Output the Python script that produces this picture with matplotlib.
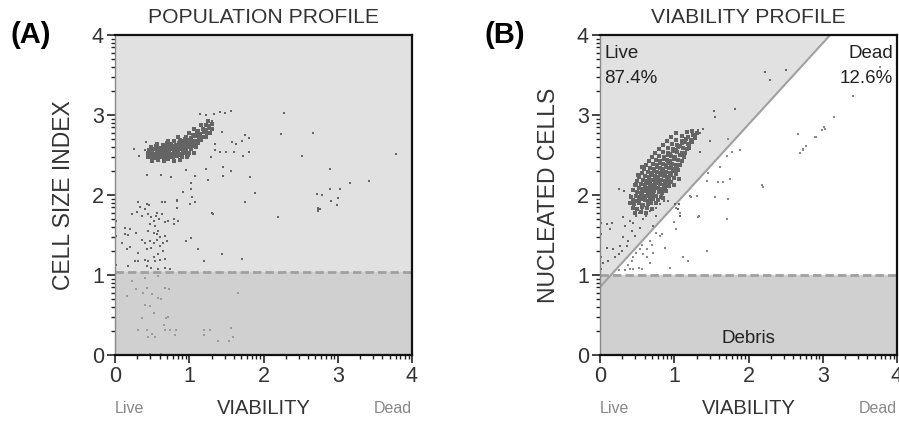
import numpy as np
import matplotlib
matplotlib.use('Agg')
import matplotlib.pyplot as plt
from matplotlib.transforms import blended_transform_factory

plt.rcParams['font.family'] = ['Liberation Sans', 'DejaVu Sans']

# ---- data: panel A (population profile) ----
a_core = [
    (0.50, 2.43), (0.58, 2.44), (0.66, 2.42), (0.71, 2.45), (0.80, 2.43), (0.88, 2.44),
    (0.45, 2.48), (0.49, 2.47), (0.55, 2.49), (0.60, 2.48), (0.64, 2.47), (0.69, 2.49),
    (0.74, 2.48), (0.78, 2.47), (0.84, 2.49), (0.90, 2.48), (0.97, 2.47),
    (0.44, 2.52), (0.48, 2.53), (0.52, 2.51), (0.57, 2.52), (0.61, 2.53), (0.65, 2.51),
    (0.68, 2.52), (0.72, 2.53), (0.76, 2.51), (0.81, 2.52), (0.85, 2.53), (0.89, 2.51),
    (0.94, 2.52), (1.00, 2.53), (1.06, 2.52),
    (0.46, 2.56), (0.50, 2.55), (0.54, 2.57), (0.58, 2.56), (0.62, 2.55), (0.66, 2.57),
    (0.70, 2.56), (0.73, 2.55), (0.77, 2.57), (0.80, 2.56), (0.84, 2.55), (0.88, 2.57),
    (0.92, 2.56), (0.96, 2.55), (1.02, 2.57),
    (0.49, 2.60), (0.55, 2.61), (0.60, 2.59), (0.64, 2.60), (0.68, 2.61), (0.72, 2.59),
    (0.76, 2.60), (0.79, 2.61), (0.83, 2.59), (0.87, 2.60), (0.91, 2.61), (0.95, 2.59),
    (0.99, 2.60), (1.04, 2.61), (1.09, 2.60),
    (0.57, 2.64), (0.65, 2.63), (0.70, 2.65), (0.75, 2.64), (0.82, 2.63), (0.86, 2.65),
    (0.90, 2.64), (0.94, 2.63), (0.98, 2.65), (1.03, 2.64), (1.07, 2.63), (1.12, 2.65),
    (0.71, 2.68), (0.80, 2.67), (0.88, 2.69), (0.93, 2.68), (0.97, 2.67), (1.01, 2.69),
    (1.06, 2.68), (1.10, 2.67), (1.16, 2.69),
    (0.85, 2.72), (0.96, 2.73), (1.02, 2.71), (1.08, 2.74), (1.13, 2.72), (1.18, 2.73),
    (1.22, 2.72),
    (1.00, 2.77), (1.10, 2.78), (1.15, 2.76), (1.20, 2.79), (1.24, 2.77), (1.28, 2.78),
    (1.07, 2.82), (1.19, 2.83), (1.23, 2.81), (1.26, 2.84), (1.31, 2.82),
    (1.16, 2.87), (1.22, 2.88), (1.27, 2.86), (1.31, 2.89), (1.25, 2.93),
    (0.53, 2.465), (0.67, 2.455), (0.75, 2.50), (0.87, 2.505), (0.63, 2.54), (0.79, 2.535),
    (0.91, 2.58), (0.71, 2.62), (0.85, 2.615), (1.01, 2.625), (0.94, 2.70), (1.05, 2.75),
    (1.12, 2.80), (0.59, 2.58), (0.98, 2.50), (1.14, 2.70),
]

a_scatter = [
    (0.25, 2.57), (0.32, 2.49), (0.40, 2.56), (0.42, 2.66), (0.43, 2.25), (0.62, 2.25),
    (0.75, 2.22), (0.96, 2.31), (1.08, 2.24), (1.23, 2.32), (1.46, 2.35), (1.46, 2.24),
    (1.56, 2.30), (1.82, 2.22), (1.25, 2.19), (1.02, 2.15), (1.03, 2.08), (1.04, 1.97),
    (1.08, 1.91), (0.83, 1.94), (0.84, 1.84), (0.91, 2.04), (1.31, 1.77), (1.75, 1.91),
    (1.89, 2.03), (1.41, 2.54), (1.49, 2.54), (1.60, 2.54), (1.73, 2.49), (1.80, 2.54),
    (1.58, 2.66), (1.63, 2.64), (1.71, 2.68), (1.75, 2.75), (1.80, 2.71), (1.35, 2.64),
    (1.35, 2.56), (1.29, 2.47), (1.44, 2.79), (1.41, 3.04), (1.48, 3.02), (1.56, 3.05),
    (1.14, 3.01), (1.23, 3.00), (1.34, 3.01), (1.30, 2.93),
    (2.28, 3.03), (2.24, 2.76), (2.67, 2.78), (2.52, 2.49), (3.79, 2.51), (2.89, 2.32),
    (3.16, 2.15), (3.42, 2.17), (2.89, 2.08), (3.03, 2.08), (2.72, 2.01), (2.79, 2.00),
    (2.91, 1.93), (3.01, 1.96), (2.99, 1.88), (2.73, 1.82), (2.76, 1.82), (2.74, 1.84),
    (2.74, 1.80), (2.19, 1.72),
    (0.31, 1.91), (0.34, 1.85), (0.43, 1.89), (0.46, 1.87), (0.63, 1.91), (0.68, 1.91),
    (0.83, 1.93), (1.01, 1.89), (1.08, 1.91), (1.75, 1.91), (0.23, 1.76), (0.29, 1.79),
    (0.36, 1.74), (0.40, 1.82), (0.45, 1.76), (0.49, 1.72), (0.52, 1.68), (0.55, 1.74),
    (0.57, 1.78), (0.59, 1.70), (0.63, 1.76), (0.67, 1.66), (0.72, 1.68), (0.47, 1.64),
    (0.54, 1.61), (0.79, 1.70), (0.85, 1.68), (0.80, 1.64), (1.32, 1.76), (0.13, 1.59),
    (0.20, 1.57), (0.28, 1.53), (0.45, 1.55), (0.52, 1.53), (0.58, 1.55), (0.56, 1.51),
    (0.61, 1.47), (0.67, 1.49), (0.13, 1.51), (0.18, 1.50), (0.02, 1.49), (0.01, 1.68),
    (0.36, 1.44), (0.40, 1.40), (0.47, 1.42), (0.52, 1.40), (0.56, 1.44), (0.65, 1.40),
    (0.70, 1.42), (0.95, 1.42), (1.03, 1.46), (1.12, 1.32), (0.09, 1.40), (0.20, 1.35),
    (0.16, 1.32), (0.31, 1.28), (0.43, 1.32), (0.49, 1.34), (0.61, 1.36), (0.65, 1.30),
    (0.58, 1.26), (0.52, 1.22), (0.45, 1.17), (0.40, 1.19), (0.27, 1.17), (0.31, 1.18),
    (0.54, 1.17), (0.61, 1.19), (0.67, 1.20), (0.67, 1.09), (0.74, 1.08), (0.58, 1.07),
    (0.49, 1.09), (0.43, 1.11), (0.18, 1.11), (0.01, 1.13), (1.20, 1.18), (1.44, 1.26),
    (1.71, 1.20),
]

a_debris = [
    (0.40, 0.96), (0.23, 0.92), (0.58, 0.99), (0.43, 0.84), (0.28, 0.82), (0.67, 0.84),
    (0.73, 0.82), (0.16, 0.74), (0.38, 0.78), (0.50, 0.76), (0.58, 0.71), (0.62, 0.70),
    (1.66, 0.77), (0.40, 0.62), (0.47, 0.61), (0.52, 0.53), (0.37, 0.46), (0.69, 0.46),
    (0.66, 0.38), (0.31, 0.31), (0.43, 0.31), (0.50, 0.26), (0.45, 0.22), (0.54, 0.22),
    (0.67, 0.31), (0.74, 0.31), (0.82, 0.31), (0.81, 0.25), (1.20, 0.31), (1.20, 0.25),
    (1.28, 0.31), (1.56, 0.34), (1.59, 0.23), (1.53, 0.17), (1.39, 0.17), (0.47, 0.01),
    (0.62, 0.01), (0.72, 0.48),
]

# ---- data: panel B (viability profile) ----
b_core = [
    (0.47, 1.78), (0.55, 1.79), (0.62, 1.77),
    (0.44, 1.84), (0.50, 1.83), (0.56, 1.85), (0.63, 1.84), (0.70, 1.83),
    (0.46, 1.89), (0.52, 1.90), (0.58, 1.88), (0.64, 1.89), (0.69, 1.90),
    (0.45, 1.94), (0.50, 1.93), (0.55, 1.95), (0.60, 1.94), (0.66, 1.93), (0.72, 1.95), (0.78, 1.94),
    (0.48, 1.99), (0.53, 1.98), (0.57, 2.00), (0.62, 1.99), (0.67, 1.98), (0.71, 2.00), (0.76, 1.99),
    (0.50, 2.04), (0.55, 2.03), (0.59, 2.05), (0.64, 2.04), (0.68, 2.03), (0.73, 2.05), (0.79, 2.04),
    (0.84, 2.03),
    (0.52, 2.09), (0.57, 2.08), (0.61, 2.10), (0.65, 2.09), (0.70, 2.08), (0.74, 2.10), (0.78, 2.09),
    (0.83, 2.08), (0.88, 2.10),
    (0.55, 2.14), (0.60, 2.13), (0.64, 2.15), (0.68, 2.14), (0.72, 2.13), (0.76, 2.15), (0.81, 2.14),
    (0.86, 2.13), (0.91, 2.15),
    (0.58, 2.19), (0.62, 2.18), (0.66, 2.20), (0.70, 2.19), (0.74, 2.18), (0.78, 2.20), (0.82, 2.19),
    (0.87, 2.18), (0.93, 2.20),
    (0.61, 2.24), (0.66, 2.23), (0.70, 2.25), (0.74, 2.24), (0.78, 2.23), (0.82, 2.25), (0.86, 2.24),
    (0.90, 2.23), (0.96, 2.25),
    (0.64, 2.29), (0.69, 2.28), (0.73, 2.30), (0.77, 2.29), (0.81, 2.28), (0.85, 2.30), (0.89, 2.29),
    (0.94, 2.28), (1.00, 2.30),
    (0.68, 2.34), (0.73, 2.33), (0.77, 2.35), (0.81, 2.34), (0.85, 2.33), (0.89, 2.35), (0.93, 2.34),
    (0.98, 2.33), (1.04, 2.35),
    (0.72, 2.39), (0.77, 2.38), (0.81, 2.40), (0.85, 2.39), (0.89, 2.38), (0.93, 2.40), (0.97, 2.39),
    (1.02, 2.38),
    (0.76, 2.44), (0.81, 2.43), (0.86, 2.45), (0.90, 2.44), (0.94, 2.43), (0.99, 2.45), (1.05, 2.44),
    (0.80, 2.49), (0.86, 2.48), (0.91, 2.50), (0.96, 2.49), (1.01, 2.48), (1.08, 2.50),
    (0.85, 2.54), (0.92, 2.53), (0.98, 2.55), (1.04, 2.54), (1.10, 2.53),
    (0.91, 2.59), (0.98, 2.58), (1.05, 2.60), (1.12, 2.59),
    (0.97, 2.64), (1.04, 2.63), (1.11, 2.65), (1.18, 2.64),
    (1.03, 2.69), (1.10, 2.68), (1.16, 2.70), (1.22, 2.69),
    (1.10, 2.74), (1.18, 2.73), (1.25, 2.75),
    (1.17, 2.79), (1.24, 2.80),
    # left flank
    (0.42, 1.98), (0.45, 2.06), (0.47, 2.12), (0.50, 2.17), (0.53, 2.22), (0.56, 2.27),
    (0.59, 2.32), (0.62, 2.37), (0.66, 2.42), (0.70, 2.47), (0.74, 2.52), (0.79, 2.57),
    (0.85, 2.62), (0.90, 2.67), (0.96, 2.72), (1.03, 2.77), (0.40, 1.90), (0.51, 2.25),
    (0.57, 2.35), (0.49, 2.14),
    # right flank
    (0.75, 1.90), (0.82, 1.98), (0.89, 2.05), (0.93, 2.11), (0.96, 2.16), (0.99, 2.21),
    (1.02, 2.26), (1.05, 2.31), (1.08, 2.37), (1.10, 2.42), (1.13, 2.47), (1.15, 2.52),
    (1.17, 2.57), (1.20, 2.61), (1.24, 2.66), (1.28, 2.71), (1.30, 2.77), (0.85, 1.96),
    (1.00, 2.12), (1.06, 2.20),
    # fill
    (0.60, 2.065), (0.70, 2.115), (0.80, 2.165), (0.75, 2.215), (0.88, 2.265), (0.83, 2.315),
    (0.95, 2.365), (0.91, 2.415), (1.00, 2.465), (0.94, 2.515), (1.02, 2.565), (1.08, 2.615),
    (1.14, 2.665), (0.53, 1.915), (0.61, 1.965), (0.69, 2.015),
]

b_scatter = [
    (1.53, 3.05), (1.55, 2.98), (1.82, 3.07), (1.48, 2.68), (1.35, 2.54), (1.21, 2.58),
    (1.29, 2.75), (1.39, 2.83), (1.32, 2.81), (1.35, 2.77), (0.25, 2.08), (0.32, 2.05),
    (0.40, 2.00), (1.06, 1.89), (1.05, 1.83), (1.08, 1.74), (0.31, 1.72), (0.62, 1.74),
    (0.75, 1.74), (2.22, 3.54), (2.29, 3.44), (2.51, 3.56),
    (0.09, 1.64), (0.13, 1.57), (0.16, 1.65), (0.31, 1.72), (0.34, 1.61), (0.40, 1.68),
    (0.43, 1.55), (0.45, 1.65), (0.49, 1.74), (0.53, 1.78), (0.56, 1.82), (0.58, 1.70),
    (0.63, 1.76), (0.54, 1.59), (0.58, 1.89), (0.63, 1.93), (0.47, 1.49), (0.38, 1.43),
    (0.31, 1.47), (0.27, 1.36), (0.18, 1.32), (0.09, 1.34), (0.02, 1.22), (0.04, 1.15),
    (0.11, 1.18), (0.20, 1.22), (0.25, 1.26), (0.29, 1.30), (0.36, 1.36), (0.67, 1.80),
    (0.72, 1.61), (0.76, 1.84), (0.81, 1.89), (0.86, 1.92), (0.92, 1.93), (1.01, 1.89),
    (0.02, 1.65), (0.02, 1.51), (0.01, 1.07),
]

b_dead = [
    (1.73, 2.70), (1.89, 2.56), (1.71, 2.49), (1.62, 2.35), (1.46, 2.28), (1.59, 2.16),
    (1.75, 2.20), (1.73, 1.95), (1.55, 1.98), (1.30, 1.99), (1.34, 1.74), (1.78, 2.54),
    (1.66, 2.16), (1.44, 2.18), (1.21, 1.99), (1.23, 1.97), (2.18, 2.12),
    (3.77, 3.60), (3.41, 3.24), (3.15, 2.98), (2.66, 2.76), (2.89, 2.72), (2.91, 2.73),
    (2.99, 2.81), (3.02, 2.85), (3.03, 2.83), (2.78, 2.61), (2.74, 2.58), (2.73, 2.56),
    (2.69, 2.52), (2.19, 2.10),
    (1.03, 1.84), (1.08, 1.78), (1.00, 1.66), (1.03, 1.57), (1.32, 1.72), (1.71, 1.70),
    (0.76, 1.52), (0.81, 1.49), (0.83, 1.51), (0.67, 1.43), (0.70, 1.38), (0.72, 1.28),
    (0.63, 1.32), (0.56, 1.38), (0.54, 1.32), (0.58, 1.26), (0.49, 1.28), (0.45, 1.22),
    (0.43, 1.17), (0.38, 1.13), (0.34, 1.06), (0.45, 1.07), (0.52, 1.09), (0.56, 1.07),
    (0.63, 1.22), (0.67, 1.15), (0.25, 1.06), (0.40, 1.07), (0.94, 1.09), (1.12, 1.23),
    (1.19, 1.18), (1.44, 1.30), (0.88, 1.34),
]

live_pct = '87.4%'
dead_pct = '12.6%'
tick_labels = ['0', '1', '2', '3', '4']

# gates
debris_a = 1.04
debris_b = 1.0
diag_x0, diag_y0 = 0.0, 0.85
diag_x1, diag_y1 = 3.1, 4.0

light = '#e1e1e1'
dark = '#d0d0d0'
dot = '#646464'
txt = '#333333'

fig = plt.figure(figsize=(8.99, 4.21), dpi=100)
ax_a = fig.add_axes([115 / 899, 1 - 355 / 421, 297 / 899, 320 / 421])
ax_b = fig.add_axes([600 / 899, 1 - 355 / 421, 297 / 899, 320 / 421])

minor = [n + np.log10(k) for n in range(4) for k in range(2, 10)]


def style(ax, ylab, title):
    ax.set_xlim(0, 4)
    ax.set_ylim(0, 4)
    ax.set_xticks(range(5))
    ax.set_yticks(range(5))
    ax.set_xticklabels(tick_labels, fontsize=15.5, color=txt)
    ax.set_yticklabels(tick_labels, fontsize=15.5, color=txt)
    ax.set_xticks(minor, minor=True)
    ax.set_yticks(minor, minor=True)
    ax.tick_params(which='major', length=6, width=1.2, color='#222222', pad=2)
    ax.tick_params(which='minor', length=3, width=1, color='#222222')
    for s in ['top', 'right', 'bottom']:
        ax.spines[s].set_linewidth(1.6)
        ax.spines[s].set_color('#111111')
    ax.spines['left'].set_linewidth(1)
    ax.spines['left'].set_color('#888888')
    ax.text(0.5, 1.056, title, transform=ax.transAxes, ha='center', va='center',
            fontsize=15.2, color=txt)
    ax.text(-0.175, 0.5, ylab, transform=ax.transAxes, ha='center', va='center',
            rotation=90, fontsize=16.5, color=txt)
    ax.text(0.5, -0.166, 'VIABILITY', transform=ax.transAxes, ha='center', va='center',
            fontsize=14.5, color=txt)
    tr = blended_transform_factory(ax.transData, ax.transAxes)
    ax.text(0, -0.166, 'Live', transform=tr, ha='left', va='center',
            fontsize=11.5, color='#888888')
    ax.text(4, -0.166, 'Dead', transform=tr, ha='right', va='center',
            fontsize=11.5, color='#888888')


def pts(lst):
    arr = np.array(lst)
    return arr[:, 0], arr[:, 1]


# panel A
ax_a.set_facecolor(light)
ax_a.axhspan(0, debris_a, color=dark, zorder=0)
ax_a.axhline(debris_a, color='#a0a0a0', lw=2, ls=(0, (3, 1.5)), zorder=1)
for group, c, s in [(a_core, dot, 7), (a_scatter, dot, 2.5), (a_debris, '#9a9a9a', 2.5)]:
    x, y = pts(group)
    ax_a.scatter(x, y, s=s, marker='s', c=c, linewidths=0, zorder=2)
style(ax_a, 'CELL SIZE INDEX', 'POPULATION PROFILE')

# panel B
ax_b.set_facecolor('white')
ax_b.axhspan(0, debris_b, color=dark, zorder=0)
x_cross = diag_x0 + (debris_b - diag_y0) * (diag_x1 - diag_x0) / (diag_y1 - diag_y0)
ax_b.fill([0, 0, diag_x1, x_cross], [debris_b, 4, diag_y1, debris_b], color=light, lw=0, zorder=0)
ax_b.plot([diag_x0, diag_x1], [diag_y0, diag_y1], color='#a0a0a0', lw=1.5, zorder=1)
ax_b.axhline(debris_b, color='#a0a0a0', lw=2, ls=(0, (3, 1.5)), zorder=1)
for group, c, s in [(b_core, dot, 7), (b_scatter, dot, 2.5), (b_dead, '#8a8a8a', 2.2)]:
    x, y = pts(group)
    ax_b.scatter(x, y, s=s, marker='s', c=c, linewidths=0, zorder=2)
ax_b.text(0.06, 3.77, 'Live', fontsize=13.5, color='#222222', va='center', ha='left')
ax_b.text(0.06, 3.46, live_pct, fontsize=13.5, color='#222222', va='center', ha='left')
ax_b.text(3.95, 3.77, 'Dead', fontsize=13.5, color='#222222', va='center', ha='right')
ax_b.text(3.95, 3.46, dead_pct, fontsize=13.5, color='#222222', va='center', ha='right')
ax_b.text(2.0, 0.21, 'Debris', fontsize=13.5, color='#222222', va='center', ha='center')
style(ax_b, 'NUCLEATED CELLS', 'VIABILITY PROFILE')

fig.text(10 / 899, 1 - 35 / 421, '(A)', fontsize=21, fontweight='bold', va='center', ha='left')
fig.text(485 / 899, 1 - 35 / 421, '(B)', fontsize=21, fontweight='bold', va='center', ha='left')

fig.savefig('out.png', dpi=100)
